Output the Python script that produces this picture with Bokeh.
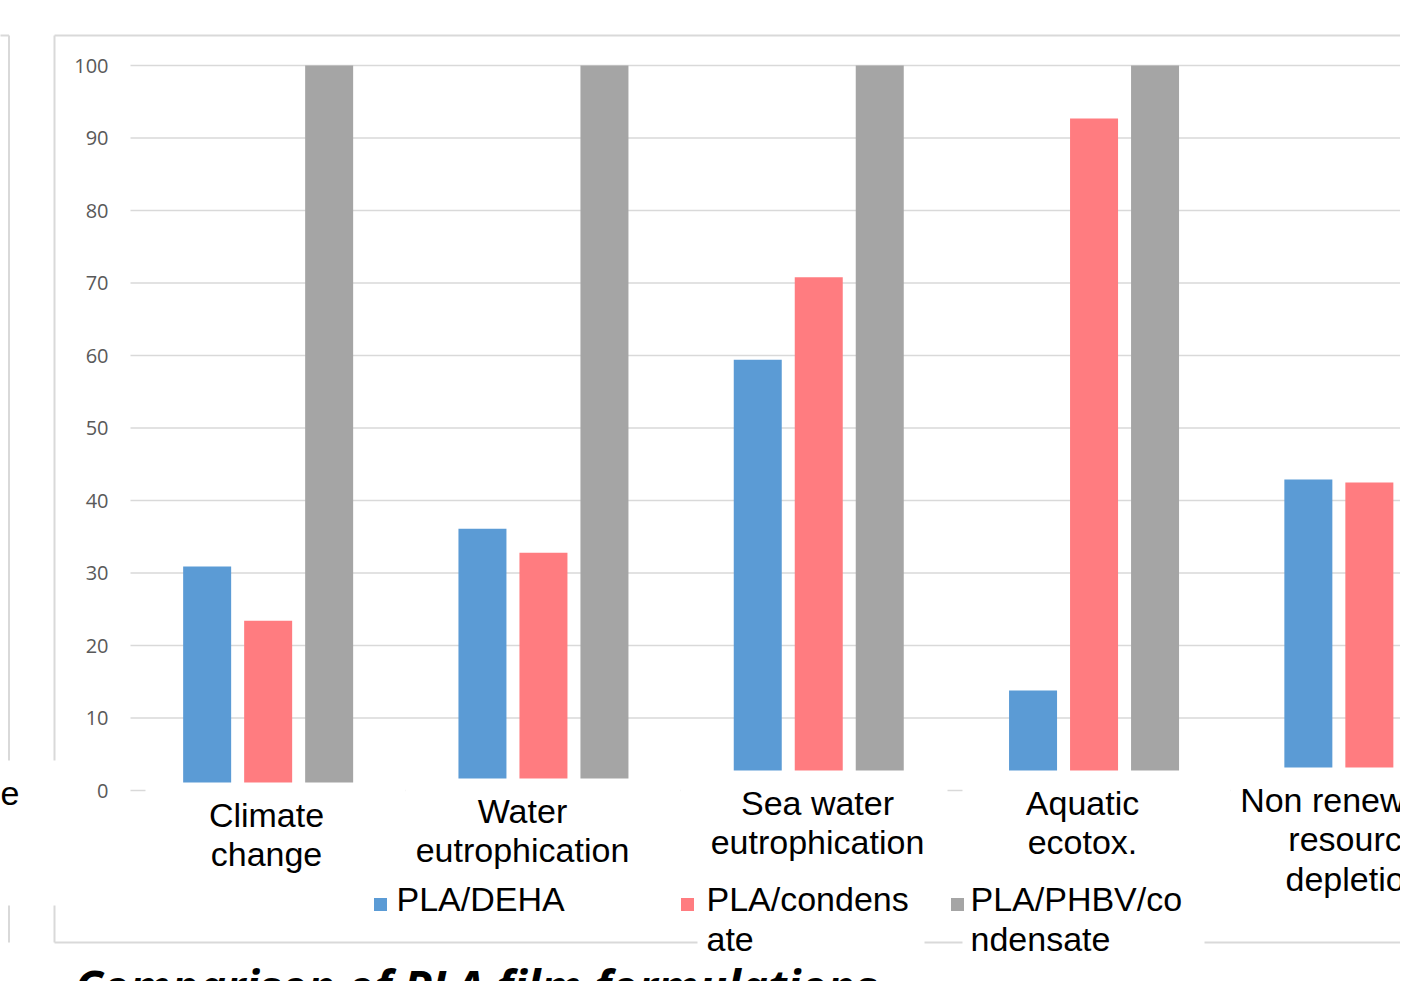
from bokeh.plotting import figure
from bokeh.models import Range1d
from bokeh.core.properties import value
from bokeh.embed import file_html
from bokeh.resources import INLINE

# ---------------- data ----------------
categories = ["Climate\nchange", "Water\neutrophication", "Sea water\neutrophication",
              "Aquatic\necotox.", "Non renewable\nresource\ndepletion"]
series = ["PLA/DEHA", "PLA/condensate", "PLA/PHBV/condensate"]
pla_deha = [30.9, 36.1, 59.4, 13.8, 42.9]
pla_condensate = [23.4, 32.8, 70.8, 92.7, 42.5]
pla_phbv_condensate = [100, 100, 100, 100, 100]
legend_lines = [["PLA/DEHA"], ["PLA/condens", "ate"], ["PLA/PHBV/co", "ndensate"]]
y_ticks = [0, 10, 20, 30, 40, 50, 60, 70, 80, 90, 100]
title_text = "Comparison of PLA film formulations"

# ---------------- layout (pixel geometry of the slide) ----------------
PX0, SX = 130.0, 275.3   # x of category axis start, px per category
PY0, SY = 790.0, 7.25    # y of value 0, px per unit
W, H = 1400, 981


def dx(px):
    return (px - PX0) / SX


def dy(py):
    return (PY0 - py) / SY


colors = ["#5b9bd5", "#ff7c80", "#a5a5a5"]
offsets = [-61 / SX, 0.0, 61 / SX]
bar_w = 48 / SX
grid_col = "#d9d9d9"

p = figure(width=W, height=H, output_backend="svg", toolbar_location=None,
           x_range=Range1d(dx(0), dx(W)), y_range=Range1d(dy(H), dy(0)),
           x_axis_location=None, y_axis_location=None, min_border=0,
           outline_line_color=None, background_fill_color="white",
           border_fill_color="white")
p.grid.visible = False

# frames of the slide charts
p.segment(x0=[dx(8.5), dx(-5), dx(54), dx(54), dx(54)],
          y0=[dy(35), dy(35), dy(35), dy(35), dy(942)],
          x1=[dx(8.5), dx(8.5), dx(54), dx(1430), dx(1430)],
          y1=[dy(942), dy(35), dy(942), dy(35), dy(942)],
          line_color=grid_col, line_width=2)

# gridlines
n = len(categories)
p.segment(x0=[0] * len(y_ticks), x1=[n] * len(y_ticks), y0=y_ticks, y1=y_ticks,
          line_color=grid_col, line_width=1.5)

# tick labels
p.text(x=[dx(108)] * len(y_ticks), y=y_ticks, text=[str(t) for t in y_ticks],
       text_align="right", text_baseline="middle", text_color="#595959",
       text_font=value("Open Sans"), text_font_size=value("20px"))

# bars
for vals, col, off in zip([pla_deha, pla_condensate, pla_phbv_condensate], colors, offsets):
    p.vbar(x=[i + 0.5 + off for i in range(n)], top=vals, bottom=0, width=bar_w,
           fill_color=col, line_color=None)

# white label boxes covering the axis area
box_left = [145, 405, 680, 962, 1230]
box_right = [405, 680, 947, 1230, 1430]
box_top = [782, 778, 770, 770, 767]
box_bottom = [880, 880, 880, 880, 905]
p.quad(left=[dx(v) for v in box_left], right=[dx(v) for v in box_right],
       top=[dy(v) for v in box_top], bottom=[dy(v) for v in box_bottom],
       fill_color="white", line_color=None)
# legend text boxes and left-chart label box
p.quad(left=[dx(697), dx(962), dx(-5)], right=[dx(924), dx(1204), dx(56)],
       top=[dy(880), dy(880), dy(760)], bottom=[dy(960), dy(960), dy(905)],
       fill_color="white", line_color=None)

# category labels
label_cx = [266, 522, 817, 1082, 1354]
lx, ly, lt = [], [], []
for i, cat in enumerate(categories):
    for k, line in enumerate(cat.split("\n")):
        lx.append(dx(label_cx[i]))
        ly.append(dy(box_top[i] + 32 + 39.5 * k))
        lt.append(line)
p.text(x=lx, y=ly, text=lt, text_align="center", text_baseline="middle",
       text_color="black", text_font=value("Liberation Sans"), text_font_size=value("34px"))
# tail of the neighbouring chart's label
p.text(x=[dx(19)], y=[dy(793)], text=["e"], text_align="right", text_baseline="middle",
       text_color="black", text_font=value("Liberation Sans"), text_font_size=value("34px"))

# legend
sq_cx = [380, 687, 957]
txt_x = [396, 706, 970]
p.rect(x=[dx(v) for v in sq_cx], y=[dy(904)] * 3, width=13, height=13,
       width_units="screen", height_units="screen", fill_color=colors, line_color=None)
gx, gy, gt = [], [], []
for i, lines in enumerate(legend_lines):
    for k, line in enumerate(lines):
        gx.append(dx(txt_x[i]))
        gy.append(dy(898 + 40 * k))
        gt.append(line)
p.text(x=gx, y=gy, text=gt, text_align="left", text_baseline="middle",
       text_color="black", text_font=value("Liberation Sans"), text_font_size=value("34px"))

# title (slide text, cropped at bottom)
p.text(x=[dx(74)], y=[dy(985)], text=[title_text], text_align="left",
       text_baseline="middle", text_color="black", text_font=value("Open Sans"),
       text_font_style="bold italic", text_font_size=value("46px"))

open("out.html", "w").write(file_html(p, INLINE))
